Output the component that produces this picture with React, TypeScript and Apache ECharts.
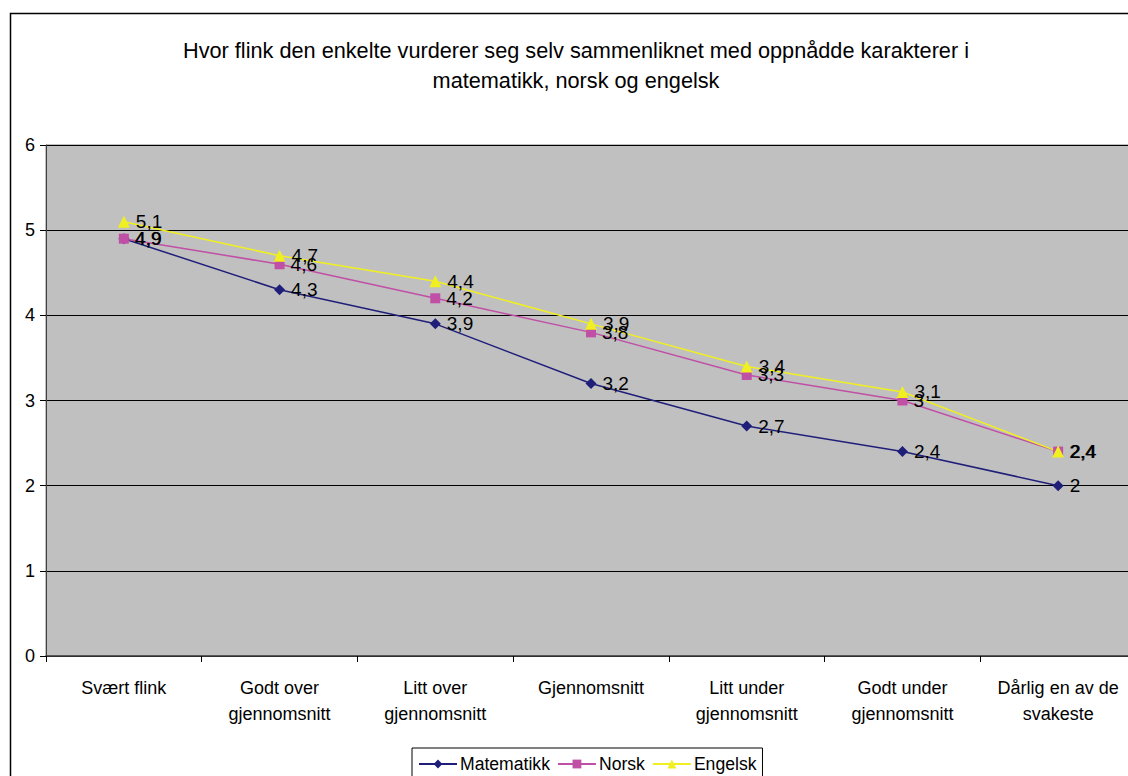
import React, { useEffect, useRef } from "react";
import * as echarts from "echarts";

const categories = [
  "Svært flink",
  "Godt over\ngjennomsnitt",
  "Litt over\ngjennomsnitt",
  "Gjennomsnitt",
  "Litt under\ngjennomsnitt",
  "Godt under\ngjennomsnitt",
  "Dårlig en av de\nsvakeste",
];
const matematikk = [4.9, 4.3, 3.9, 3.2, 2.7, 2.4, 2];
const norsk = [4.9, 4.6, 4.2, 3.8, 3.3, 3.0, 2.4];
const engelsk = [5.1, 4.7, 4.4, 3.9, 3.4, 3.1, 2.4];
const yTicks = [0, 1, 2, 3, 4, 5, 6];

const FONT = "'Liberation Sans', Arial, sans-serif";
const fmt = (v: number) => String(v).replace(".", ",");

export default function App() {
  const ref = useRef<HTMLDivElement>(null);
  useEffect(() => {
    if (!ref.current) return;
    const chart = echarts.init(ref.current, null, { renderer: "svg" });
    const label = {
      show: true,
      position: "right" as const,
      distance: 6,
      color: "#000",
      fontSize: 19,
      fontFamily: FONT,
      formatter: (p: any) => fmt(p.value),
    };
    const mk = (name: string, data: number[], color: string, symbol: string, size: number) => ({
      name,
      type: "line",
      data,
      symbol,
      symbolSize: size,
      lineStyle: { color, width: 1.5 },
      itemStyle: { color },
      label,
    });
    chart.setOption({
      animation: false,
      backgroundColor: "#fff",
      graphic: [
        {
          type: "rect",
          left: 8,
          top: 11,
          shape: { width: 1140, height: 790 },
          style: { fill: "none", stroke: "#000", lineWidth: 1.5 },
          silent: true,
        },
        {
          type: "text",
          x: 576,
          y: 35,
          style: {
            text: "Hvor flink den enkelte vurderer seg selv sammenliknet med oppnådde karakterer i\nmatematikk, norsk og engelsk",
            align: "center",
            fontSize: 21.7,
            lineHeight: 30,
            fontFamily: FONT,
            fill: "#000",
          },
        },
      ],
      legend: {
        left: 412,
        top: 748,
        itemWidth: 38,
        itemHeight: 11,
        itemGap: 7,
        padding: [7, 6, 14, 6],
        borderColor: "#000",
        borderWidth: 1,
        textStyle: { fontSize: 17.6, fontFamily: FONT, color: "#000", padding: [0, 0, 0, -2] },
        data: ["Matematikk", "Norsk", "Engelsk"],
      },
      grid: {
        left: 46,
        top: 145,
        right: -8,
        bottom: 120,
        outerBoundsMode: "none",
        containLabel: false,
        show: true,
        backgroundColor: "#C0C0C0",
        borderColor: "#808080",
        borderWidth: 1,
      },
      xAxis: {
        type: "category",
        data: categories,
        boundaryGap: true,
        axisLine: { lineStyle: { color: "#404040", width: 1.5 } },
        axisTick: { show: true, length: 6, lineStyle: { color: "#000" } },
        axisLabel: {
          fontSize: 18,
          fontFamily: FONT,
          color: "#000",
          margin: 19,
          lineHeight: 26,
          interval: 0,
        },
      },
      yAxis: {
        type: "value",
        min: yTicks[0],
        max: yTicks[yTicks.length - 1],
        interval: 1,
        axisLine: { show: true, lineStyle: { color: "#404040", width: 1 } },
        axisTick: { show: true, length: 6, lineStyle: { color: "#000" } },
        axisLabel: { fontSize: 18, fontFamily: FONT, color: "#000", margin: 11 },
        splitLine: { show: true, lineStyle: { color: "#000", width: 1 } },
      },
      series: [
        mk("Matematikk", matematikk, "#1F1F7A", "diamond", 11),
        mk("Norsk", norsk, "#C04FA6", "rect", 10),
        mk("Engelsk", engelsk, "#F0F020", "triangle", 12),
      ],
    });
    return () => chart.dispose();
  }, []);
  return (
    <div
      ref={ref}
      style={{ position: "fixed", left: 0, top: 0, width: 1128, height: 776 }}
    />
  );
}
